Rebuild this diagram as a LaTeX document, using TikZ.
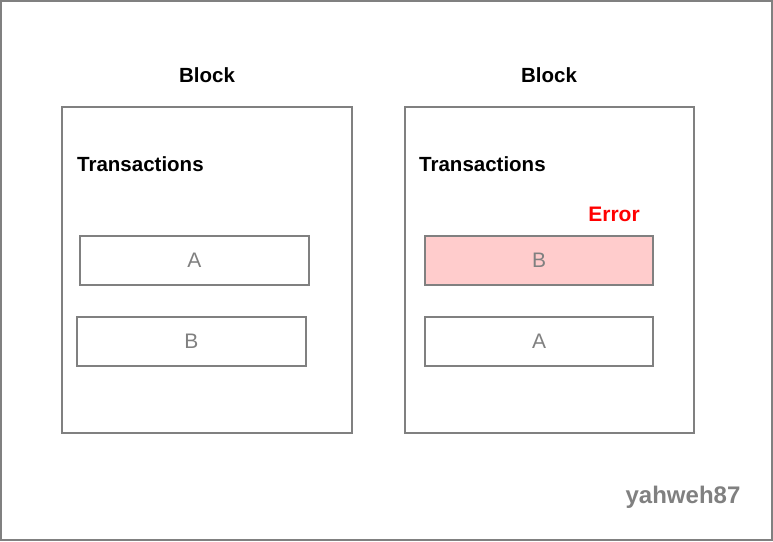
\documentclass[tikz,border=0pt]{standalone}
\usepackage{fontspec}
\setmainfont{Liberation Sans}
\definecolor{edgegray}{HTML}{808080}
\definecolor{errpink}{HTML}{FFCCCC}
\definecolor{errred}{HTML}{FF0000}
\begin{document}
\begin{tikzpicture}[x=1pt,y=-1pt,
  frame/.style={draw=edgegray,line width=2pt},
  txbox/.style={draw=edgegray,line width=2pt,minimum width=229pt,minimum height=49pt,inner sep=0pt,text=edgegray,font=\fontsize{21}{24}\selectfont},
  title/.style={font=\bfseries\fontsize{20.5}{24}\selectfont,inner sep=0pt},
  lbl/.style={font=\bfseries\fontsize{20.5}{24}\selectfont,inner sep=0pt,anchor=west}]
\useasboundingbox (0,0) rectangle (773,541);
\draw[edgegray,line width=2pt] (1,1) rectangle (772,540);
% blocks
\node[frame,minimum width=290pt,minimum height=326pt,inner sep=0pt] (blk1) at (207,270) {};
\node[frame,minimum width=289pt,minimum height=326pt,inner sep=0pt] (blk2) at (549.5,270) {};
\node[title] (t1) at (207,75) {Block};
\node[title] (t2) at (549,75) {Block};
\node[lbl] (tx1) at (77,164) {Transactions};
\node[lbl] (tx2) at (419,164) {Transactions};
% left transactions
\node[txbox] (la) at (194.5,260.5) {A};
\node[txbox] (lb) at (191.5,341.5) {B};
% right transactions
\node[txbox,fill=errpink,minimum width=228pt] (rb) at (539,260.5) {B};
\node[txbox,minimum width=228pt] (ra) at (539,341.5) {A};
\node[font=\bfseries\fontsize{21}{24}\selectfont,text=errred,inner sep=0pt] (err) at (614,214) {Error};
\node[font=\bfseries\fontsize{24}{28}\selectfont,text=edgegray,inner sep=0pt] (wm) at (683,497) {yahweh87};
\end{tikzpicture}
\end{document}
